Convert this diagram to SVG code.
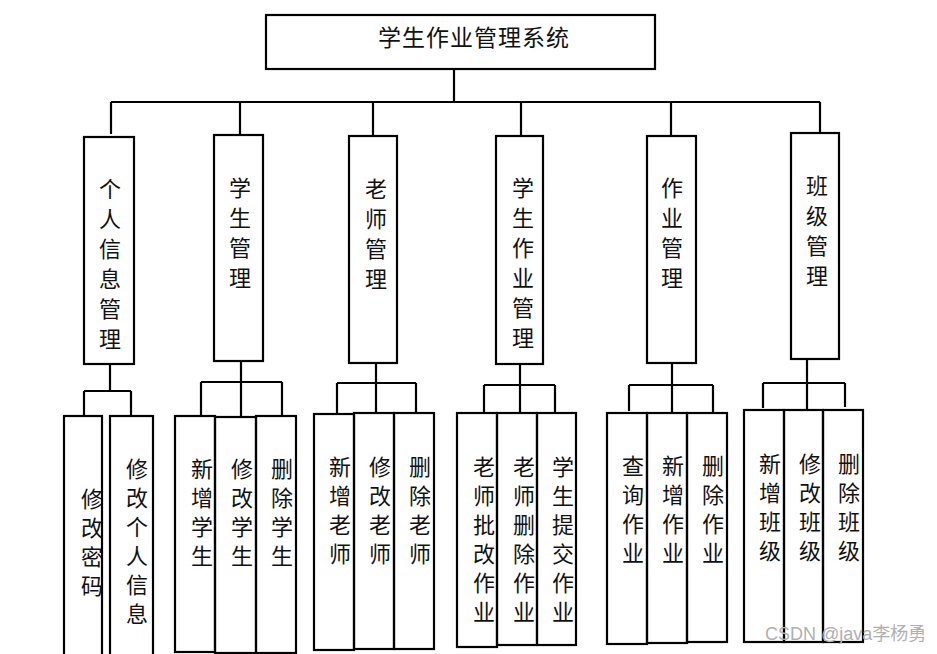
<svg xmlns="http://www.w3.org/2000/svg" width="937" height="654" viewBox="0 0 937 654">
<style>
rect{fill:none;stroke:#000;stroke-width:2.2}
.c path{fill:none;stroke:#000;stroke-width:2.2}
text{font-family:"Noto Sans CJK SC","Noto Sans",sans-serif;font-size:22px;fill:#111;text-anchor:middle}
.t{font-size:23px;text-anchor:start;letter-spacing:1px}
.wm{font-family:"Liberation Sans","Noto Sans CJK SC",sans-serif;font-size:18px;fill:#b0b0b0;text-anchor:start}
</style>
<rect x="0" y="0" width="937" height="654" style="fill:#fff;stroke:none"/>
<g class="c" id="connectors">
<path d="M454 69V102M111 102H820M111 102V134M240 102V135M373 102V136M521 102V136M671 102V136M820 102V133"/>
<path d="M110 364V391M84 391H131M84 391V416M131 391V417"/>
<path d="M241 361V417M201 382H282M201 382V416M282 382V416"/>
<path d="M376 363V413M337 383H416M337 383V414M416 383V413"/>
<path d="M520 364V412M484 385H555M484 385V413M555 385V412"/>
<path d="M672 363V413M629 385H713M629 385V411M713 385V413"/>
<path d="M807 359V410M763 383H845M763 383V408M845 383V407"/>
</g>
<g id="root"><rect x="266" y="15" width="389" height="54"/><text class="t" x="378" y="46">学生作业管理系统</text></g>
<g id="n1"><rect x="84" y="137" width="50" height="227"/><text x="110" y="197"><tspan x="110">个</tspan><tspan x="110" dy="30">人</tspan><tspan x="110" dy="30">信</tspan><tspan x="110" dy="30">息</tspan><tspan x="110" dy="30">管</tspan><tspan x="110" dy="30">理</tspan></text></g>
<g id="n2"><rect x="214" y="135" width="49" height="226"/><text x="240" y="196"><tspan x="240">学</tspan><tspan x="240" dy="30">生</tspan><tspan x="240" dy="30">管</tspan><tspan x="240" dy="30">理</tspan></text></g>
<g id="n3"><rect x="349" y="136" width="48" height="227"/><text x="376" y="197"><tspan x="376">老</tspan><tspan x="376" dy="30">师</tspan><tspan x="376" dy="30">管</tspan><tspan x="376" dy="30">理</tspan></text></g>
<g id="n4"><rect x="496" y="136" width="47" height="228"/><text x="523" y="196"><tspan x="523">学</tspan><tspan x="523" dy="30">生</tspan><tspan x="523" dy="30">作</tspan><tspan x="523" dy="30">业</tspan><tspan x="523" dy="30">管</tspan><tspan x="523" dy="30">理</tspan></text></g>
<g id="n5"><rect x="647" y="136" width="49" height="227"/><text x="672" y="196"><tspan x="672">作</tspan><tspan x="672" dy="30">业</tspan><tspan x="672" dy="30">管</tspan><tspan x="672" dy="30">理</tspan></text></g>
<g id="n6"><rect x="791" y="133" width="48" height="226"/><text x="817" y="194"><tspan x="817">班</tspan><tspan x="817" dy="30">级</tspan><tspan x="817" dy="30">管</tspan><tspan x="817" dy="30">理</tspan></text></g>

<g id="n1a"><rect x="64" y="416" width="38" height="250"/><text x="92" y="507"><tspan x="92">修</tspan><tspan x="92" dy="29">改</tspan><tspan x="92" dy="29">密</tspan><tspan x="92" dy="29">码</tspan></text></g>
<g id="n1b"><rect x="110" y="416" width="43" height="250"/><text x="137" y="477"><tspan x="137">修</tspan><tspan x="137" dy="29">改</tspan><tspan x="137" dy="29">个</tspan><tspan x="137" dy="29">人</tspan><tspan x="137" dy="29">信</tspan><tspan x="137" dy="29">息</tspan></text></g>

<g id="n2a"><rect x="175" y="416" width="40" height="236"/><text x="202" y="477"><tspan x="202">新</tspan><tspan x="202" dy="29">增</tspan><tspan x="202" dy="29">学</tspan><tspan x="202" dy="29">生</tspan></text></g>
<g id="n2b"><rect x="215" y="417" width="41" height="236"/><text x="242" y="477"><tspan x="242">修</tspan><tspan x="242" dy="29">改</tspan><tspan x="242" dy="29">学</tspan><tspan x="242" dy="29">生</tspan></text></g>
<g id="n2c"><rect x="256" y="416" width="40" height="237"/><text x="282" y="477"><tspan x="282">删</tspan><tspan x="282" dy="29">除</tspan><tspan x="282" dy="29">学</tspan><tspan x="282" dy="29">生</tspan></text></g>

<g id="n3a"><rect x="314" y="414" width="40" height="236"/><text x="340" y="475"><tspan x="340">新</tspan><tspan x="340" dy="29">增</tspan><tspan x="340" dy="29">老</tspan><tspan x="340" dy="29">师</tspan></text></g>
<g id="n3b"><rect x="354" y="413" width="40" height="236"/><text x="380" y="475"><tspan x="380">修</tspan><tspan x="380" dy="29">改</tspan><tspan x="380" dy="29">老</tspan><tspan x="380" dy="29">师</tspan></text></g>
<g id="n3c"><rect x="394" y="413" width="40" height="236"/><text x="420" y="475"><tspan x="420">删</tspan><tspan x="420" dy="29">除</tspan><tspan x="420" dy="29">老</tspan><tspan x="420" dy="29">师</tspan></text></g>

<g id="n4a"><rect x="457" y="413" width="40" height="234"/><text x="484" y="475"><tspan x="484">老</tspan><tspan x="484" dy="29">师</tspan><tspan x="484" dy="29">批</tspan><tspan x="484" dy="29">改</tspan><tspan x="484" dy="29">作</tspan><tspan x="484" dy="29">业</tspan></text></g>
<g id="n4b"><rect x="497" y="413" width="40" height="232"/><text x="524" y="475"><tspan x="524">老</tspan><tspan x="524" dy="29">师</tspan><tspan x="524" dy="29">删</tspan><tspan x="524" dy="29">除</tspan><tspan x="524" dy="29">作</tspan><tspan x="524" dy="29">业</tspan></text></g>
<g id="n4c"><rect x="537" y="413" width="39" height="232"/><text x="563" y="475"><tspan x="563">学</tspan><tspan x="563" dy="29">生</tspan><tspan x="563" dy="29">提</tspan><tspan x="563" dy="29">交</tspan><tspan x="563" dy="29">作</tspan><tspan x="563" dy="29">业</tspan></text></g>

<g id="n5a"><rect x="607" y="413" width="40" height="231"/><text x="633" y="474"><tspan x="633">查</tspan><tspan x="633" dy="29">询</tspan><tspan x="633" dy="29">作</tspan><tspan x="633" dy="29">业</tspan></text></g>
<g id="n5b"><rect x="647" y="413" width="40" height="230"/><text x="673" y="474"><tspan x="673">新</tspan><tspan x="673" dy="29">增</tspan><tspan x="673" dy="29">作</tspan><tspan x="673" dy="29">业</tspan></text></g>
<g id="n5c"><rect x="687" y="413" width="40" height="229"/><text x="713" y="474"><tspan x="713">删</tspan><tspan x="713" dy="29">除</tspan><tspan x="713" dy="29">作</tspan><tspan x="713" dy="29">业</tspan></text></g>

<g id="n6a"><rect x="744" y="410" width="40" height="232"/><text x="770" y="472"><tspan x="770">新</tspan><tspan x="770" dy="29">增</tspan><tspan x="770" dy="29">班</tspan><tspan x="770" dy="29">级</tspan></text></g>
<g id="n6b"><rect x="784" y="410" width="39" height="232"/><text x="810" y="472"><tspan x="810">修</tspan><tspan x="810" dy="29">改</tspan><tspan x="810" dy="29">班</tspan><tspan x="810" dy="29">级</tspan></text></g>
<g id="n6c"><rect x="823" y="410" width="40" height="232"/><text x="849" y="472"><tspan x="849">删</tspan><tspan x="849" dy="29">除</tspan><tspan x="849" dy="29">班</tspan><tspan x="849" dy="29">级</tspan></text></g>

<text class="wm" x="765" y="640">CSDN @java李杨勇</text>
</svg>
